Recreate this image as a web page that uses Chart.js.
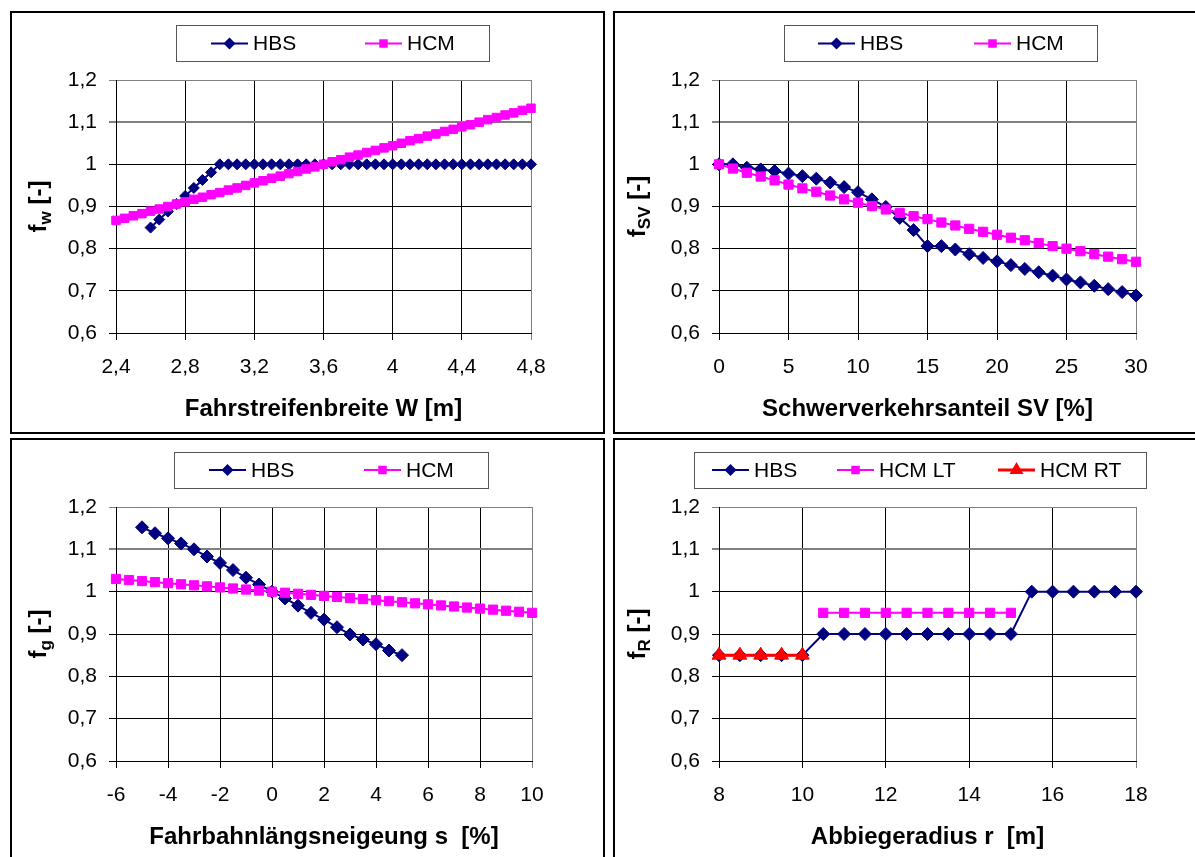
<!DOCTYPE html>
<html>
<head>
<meta charset="utf-8">
<script src="https://cdn.jsdelivr.net/npm/chart.js@4.4.1/dist/chart.umd.min.js"></script>
<style>
  body { margin: 0; background: #fff; overflow: hidden; }
  canvas { position: absolute; }
  .frame { position: absolute; border: 2px solid #000; box-sizing: border-box; pointer-events: none; }
</style>
</head>
<body>
<canvas id="chartW" width="595" height="423" style="left:10px;top:11px"></canvas>
<canvas id="chartSV" width="582" height="423" style="left:613px;top:11px"></canvas>
<canvas id="chartG" width="595" height="419" style="left:10px;top:438px"></canvas>
<canvas id="chartR" width="582" height="419" style="left:613px;top:438px"></canvas>
<div class="frame" style="left:10px;top:11px;width:595px;height:423px"></div>
<div class="frame" style="left:613px;top:11px;width:600px;height:423px"></div>
<div class="frame" style="left:10px;top:438px;width:595px;height:430px"></div>
<div class="frame" style="left:613px;top:438px;width:600px;height:430px"></div>

<script>
// --- data: lane width W [m]
const fwWidth = [2.4, 2.45, 2.5, 2.55, 2.6, 2.65, 2.7, 2.75, 2.8, 2.85, 2.9, 2.95, 3.0, 3.05, 3.1, 3.15, 3.2, 3.25, 3.3, 3.35, 3.4, 3.45, 3.5, 3.55, 3.6, 3.65, 3.7, 3.75, 3.8, 3.85, 3.9, 3.95, 4.0, 4.05, 4.1, 4.15, 4.2, 4.25, 4.3, 4.35, 4.4, 4.45, 4.5, 4.55, 4.6, 4.65, 4.7, 4.75, 4.8];
const fwHBS = [null, null, null, null, 0.850, 0.869, 0.888, 0.906, 0.925, 0.944, 0.963, 0.981, 1.000, 1.000, 1.000, 1.000, 1.000, 1.000, 1.000, 1.000, 1.000, 1.000, 1.000, 1.000, 1.000, 1.000, 1.000, 1.000, 1.000, 1.000, 1.000, 1.000, 1.000, 1.000, 1.000, 1.000, 1.000, 1.000, 1.000, 1.000, 1.000, 1.000, 1.000, 1.000, 1.000, 1.000, 1.000, 1.000, 1.000];
const fwHCM = [0.867, 0.872, 0.878, 0.883, 0.889, 0.894, 0.900, 0.906, 0.911, 0.917, 0.922, 0.928, 0.933, 0.939, 0.944, 0.950, 0.956, 0.961, 0.967, 0.972, 0.978, 0.983, 0.989, 0.994, 1.000, 1.006, 1.011, 1.017, 1.022, 1.028, 1.033, 1.039, 1.044, 1.050, 1.056, 1.061, 1.067, 1.072, 1.078, 1.083, 1.089, 1.094, 1.100, 1.106, 1.111, 1.117, 1.122, 1.128, 1.133];

// --- data: heavy vehicle share SV [%]
const svShare = [0, 1, 2, 3, 4, 5, 6, 7, 8, 9, 10, 11, 12, 13, 14, 15, 16, 17, 18, 19, 20, 21, 22, 23, 24, 25, 26, 27, 28, 29, 30];
const svHBS = [1.000, 1.000, 0.992, 0.988, 0.984, 0.978, 0.972, 0.966, 0.957, 0.946, 0.934, 0.917, 0.899, 0.873, 0.844, 0.806, 0.806, 0.798, 0.787, 0.778, 0.770, 0.761, 0.752, 0.744, 0.736, 0.727, 0.720, 0.712, 0.704, 0.697, 0.689];
const svHCM = [1.000, 0.990, 0.980, 0.971, 0.962, 0.952, 0.943, 0.935, 0.926, 0.917, 0.909, 0.901, 0.893, 0.885, 0.877, 0.870, 0.862, 0.855, 0.847, 0.840, 0.833, 0.826, 0.820, 0.813, 0.806, 0.800, 0.794, 0.787, 0.781, 0.775, 0.769];

// --- data: grade s [%]
const gSlope = [-6, -5.5, -5, -4.5, -4, -3.5, -3, -2.5, -2, -1.5, -1, -0.5, 0, 0.5, 1, 1.5, 2, 2.5, 3, 3.5, 4, 4.5, 5, 5.5, 6, 6.5, 7, 7.5, 8, 8.5, 9, 9.5, 10];
const gHBS = [null, null, 1.152, 1.138, 1.126, 1.114, 1.100, 1.083, 1.068, 1.051, 1.033, 1.017, 1.000, 0.984, 0.967, 0.950, 0.934, 0.916, 0.899, 0.887, 0.876, 0.861, 0.850, null, null, null, null, null, null, null, null, null, null];
const gHCM = [1.030, 1.0275, 1.025, 1.0225, 1.020, 1.0175, 1.015, 1.0125, 1.010, 1.0075, 1.005, 1.0025, 1.000, 0.9975, 0.995, 0.9925, 0.990, 0.9875, 0.985, 0.9825, 0.980, 0.9775, 0.975, 0.9725, 0.970, 0.9675, 0.965, 0.9625, 0.960, 0.9575, 0.955, 0.9525, 0.950];

// --- data: turning radius r [m]
const rRadius = [8, 8.5, 9, 9.5, 10, 10.5, 11, 11.5, 12, 12.5, 13, 13.5, 14, 14.5, 15, 15.5, 16, 16.5, 17, 17.5, 18];
const rHBS = [0.85, 0.85, 0.85, 0.85, 0.85, 0.90, 0.90, 0.90, 0.90, 0.90, 0.90, 0.90, 0.90, 0.90, 0.90, 1.00, 1.00, 1.00, 1.00, 1.00, 1.00];
const rHCMLT = [null, null, null, null, null, 0.95, 0.95, 0.95, 0.95, 0.95, 0.95, 0.95, 0.95, 0.95, 0.95, null, null, null, null, null, null];
const rHCMRT = [0.85, 0.85, 0.85, 0.85, 0.85, null, null, null, null, null, null, null, null, null, null, null, null, null, null, null, null];

const NAVY = "#000080";
const PINK = "#FF00FF";
const RED = "#FF0000";
const FONT = "'Liberation Sans', Arial, Helvetica, sans-serif";

function fmt(v) {
  return String(Math.round(v * 10) / 10).replace(".", ",");
}

function pts(xs, ys) {
  return xs.map((x, i) => ({ x: x, y: ys[i] }));
}

function series(label, xs, ys, color, style, radius, width, order) {
  return {
    label: label,
    data: pts(xs, ys),
    borderColor: color,
    backgroundColor: color,
    borderWidth: width,
    pointStyle: style,
    pointRadius: radius,
    pointHoverRadius: radius,
    pointBorderWidth: 1,
    pointBackgroundColor: color,
    pointBorderColor: color,
    tension: 0,
    clip: false,
    order: order,
  };
}

// small marker shapes for the legend samples
function drawMarker(ctx, style, x, y, r, color) {
  ctx.fillStyle = color;
  ctx.beginPath();
  if (style === "rectRot") {
    ctx.moveTo(x, y - r);
    ctx.lineTo(x + r, y);
    ctx.lineTo(x, y + r);
    ctx.lineTo(x - r, y);
  } else if (style === "rect") {
    const s = r * Math.SQRT1_2;
    ctx.rect(x - s, y - s, 2 * s, 2 * s);
  } else {
    ctx.moveTo(x, y - r);
    ctx.lineTo(x + r * 0.866, y + r * 0.5);
    ctx.lineTo(x - r * 0.866, y + r * 0.5);
  }
  ctx.closePath();
  ctx.fill();
}

const excelLegend = {
  id: "excelLegend",
  afterDraw(chart, args, o) {
    const ctx = chart.ctx;
    const b = o.box;
    ctx.save();
    ctx.fillStyle = "#fff";
    ctx.fillRect(b[0], b[1], b[2] - b[0], b[3] - b[1]);
    ctx.strokeStyle = "#555";
    ctx.lineWidth = 1;
    ctx.strokeRect(b[0] + 0.5, b[1] + 0.5, b[2] - b[0], b[3] - b[1]);
    chart.data.datasets.forEach((ds, i) => {
      const x = o.items[i];
      const y = o.lineY;
      ctx.strokeStyle = ds.borderColor;
      ctx.lineWidth = ds.borderWidth;
      ctx.beginPath();
      ctx.moveTo(x, y);
      ctx.lineTo(x + 37, y);
      ctx.stroke();
      drawMarker(ctx, ds.pointStyle, x + 18.5, y, ds.pointStyle === "triangle" ? 8 : 6, ds.borderColor);
      ctx.fillStyle = "#000";
      ctx.font = "21px " + FONT;
      ctx.textBaseline = "middle";
      ctx.textAlign = "left";
      ctx.fillText(ds.label, x + 42, y + 1);
    });
    ctx.restore();
  },
};

// rotated y title with subscript, e.g. f_w [-]
const yTitle = {
  id: "yTitle",
  afterDraw(chart, args, o) {
    const ctx = chart.ctx;
    const a = chart.chartArea;
    const big = "bold 24px " + FONT;
    const small = "bold 17px " + FONT;
    ctx.save();
    ctx.font = big;
    const wf = ctx.measureText("f").width;
    const wr = ctx.measureText(" [-]").width;
    ctx.font = small;
    const ws = ctx.measureText(o.sub).width;
    ctx.translate(o.x, (a.top + a.bottom) / 2);
    ctx.rotate(-Math.PI / 2);
    ctx.fillStyle = "#000";
    ctx.textAlign = "left";
    ctx.textBaseline = "alphabetic";
    let x = -(wf + ws + wr) / 2;
    ctx.font = big;
    ctx.fillText("f", x, 6);
    x += wf;
    ctx.font = small;
    ctx.fillText(o.sub, x, 11);
    x += ws;
    ctx.font = big;
    ctx.fillText(" [-]", x, 6);
    ctx.restore();
  },
};

function makeChart(id, o) {
  const near = (a, b) => Math.abs(a - b) < 1e-6;
  new Chart(document.getElementById(id), {
    type: "line",
    data: { datasets: o.datasets },
    options: {
      responsive: false,
      animation: false,
      devicePixelRatio: 1,
      events: [],
      layout: { padding: { left: 0, top: 69, right: o.padRight, bottom: 0 } },
      plugins: {
        legend: { display: false },
        tooltip: { enabled: false },
        excelLegend: o.legend,
        yTitle: { sub: o.sub, x: o.titleX },
      },
      scales: {
        x: {
          type: "linear",
          min: o.xMin,
          max: o.xMax,
          afterFit: (s) => { s.height = o.xHeight; },
          ticks: {
            stepSize: o.xStep,
            autoSkip: false,
            maxRotation: 0,
            padding: 15,
            color: "#000",
            font: { family: FONT, size: 21 },
            callback: fmt,
          },
          grid: {
            tickLength: 7,
            lineWidth: 1,
            color: (c) => (c.tick && near(c.tick.value, o.xMax) ? "#808080" : "#000"),
          },
          border: { color: "#000", width: 1 },
          title: {
            display: true,
            text: o.xTitle,
            color: "#000",
            font: { family: FONT, size: 24, weight: "bold" },
            padding: { top: 0, bottom: o.titlePad },
          },
        },
        y: {
          min: 0.6,
          max: 1.2,
          afterFit: (s) => { s.width = 106; },
          ticks: {
            stepSize: 0.1,
            padding: 12,
            color: "#000",
            font: { family: FONT, size: 21 },
            callback: fmt,
          },
          grid: {
            tickLength: 7,
            lineWidth: (c) => (c.tick && near(c.tick.value, 1.1) ? 2 : 1),
            color: (c) => (c.tick && (near(c.tick.value, 1.2) || near(c.tick.value, 1.1)) ? "#808080" : "#000"),
          },
          border: { color: "#000", width: 1 },
        },
      },
    },
    plugins: [excelLegend, yTitle],
  });
}

makeChart("chartW", {
  datasets: [
    series("HBS", fwWidth, fwHBS, NAVY, "rectRot", 5.5, 2, 2),
    series("HCM", fwWidth, fwHCM, PINK, "rect", 6, 2, 1),
  ],
  xMin: 2.4, xMax: 4.8, xStep: 0.4,
  xTitle: "Fahrstreifenbreite W [m]",
  sub: "w", titleX: 30,
  padRight: 74, xHeight: 101, titlePad: 10,
  legend: { box: [166, 14, 479, 50], items: [201, 355], lineY: 32.5 },
});

makeChart("chartSV", {
  datasets: [
    series("HBS", svShare, svHBS, NAVY, "rectRot", 6.5, 2, 2),
    series("HCM", svShare, svHCM, PINK, "rect", 6.5, 2, 1),
  ],
  xMin: 0, xMax: 30, xStep: 5,
  xTitle: "Schwerverkehrsanteil SV [%]",
  sub: "SV", titleX: 26,
  padRight: 59, xHeight: 101, titlePad: 10,
  legend: { box: [171, 14, 484, 50], items: [205, 361], lineY: 32.5 },
});

makeChart("chartG", {
  datasets: [
    series("HBS", gSlope, gHBS, NAVY, "rectRot", 6.5, 2, 2),
    series("HCM", gSlope, gHCM, PINK, "rect", 6.5, 2, 1),
  ],
  xMin: -6, xMax: 10, xStep: 2,
  xTitle: "Fahrbahnlängsneigeung s  [%]",
  sub: "g", titleX: 30,
  padRight: 73, xHeight: 96, titlePad: 5,
  legend: { box: [164, 14, 478, 50], items: [199, 354], lineY: 32 },
});

makeChart("chartR", {
  datasets: [
    series("HBS", rRadius, rHBS, NAVY, "rectRot", 6.5, 2, 3),
    series("HCM LT", rRadius, rHCMLT, PINK, "rect", 6.5, 2, 2),
    series("HCM RT", rRadius, rHCMRT, RED, "triangle", 8, 3, 1),
  ],
  xMin: 8, xMax: 18, xStep: 2,
  xTitle: "Abbiegeradius r  [m]",
  sub: "R", titleX: 26,
  padRight: 59, xHeight: 96, titlePad: 5,
  legend: { box: [81, 14, 533, 50], items: [99, 224, 385], lineY: 32 },
});
</script>
</body>
</html>
